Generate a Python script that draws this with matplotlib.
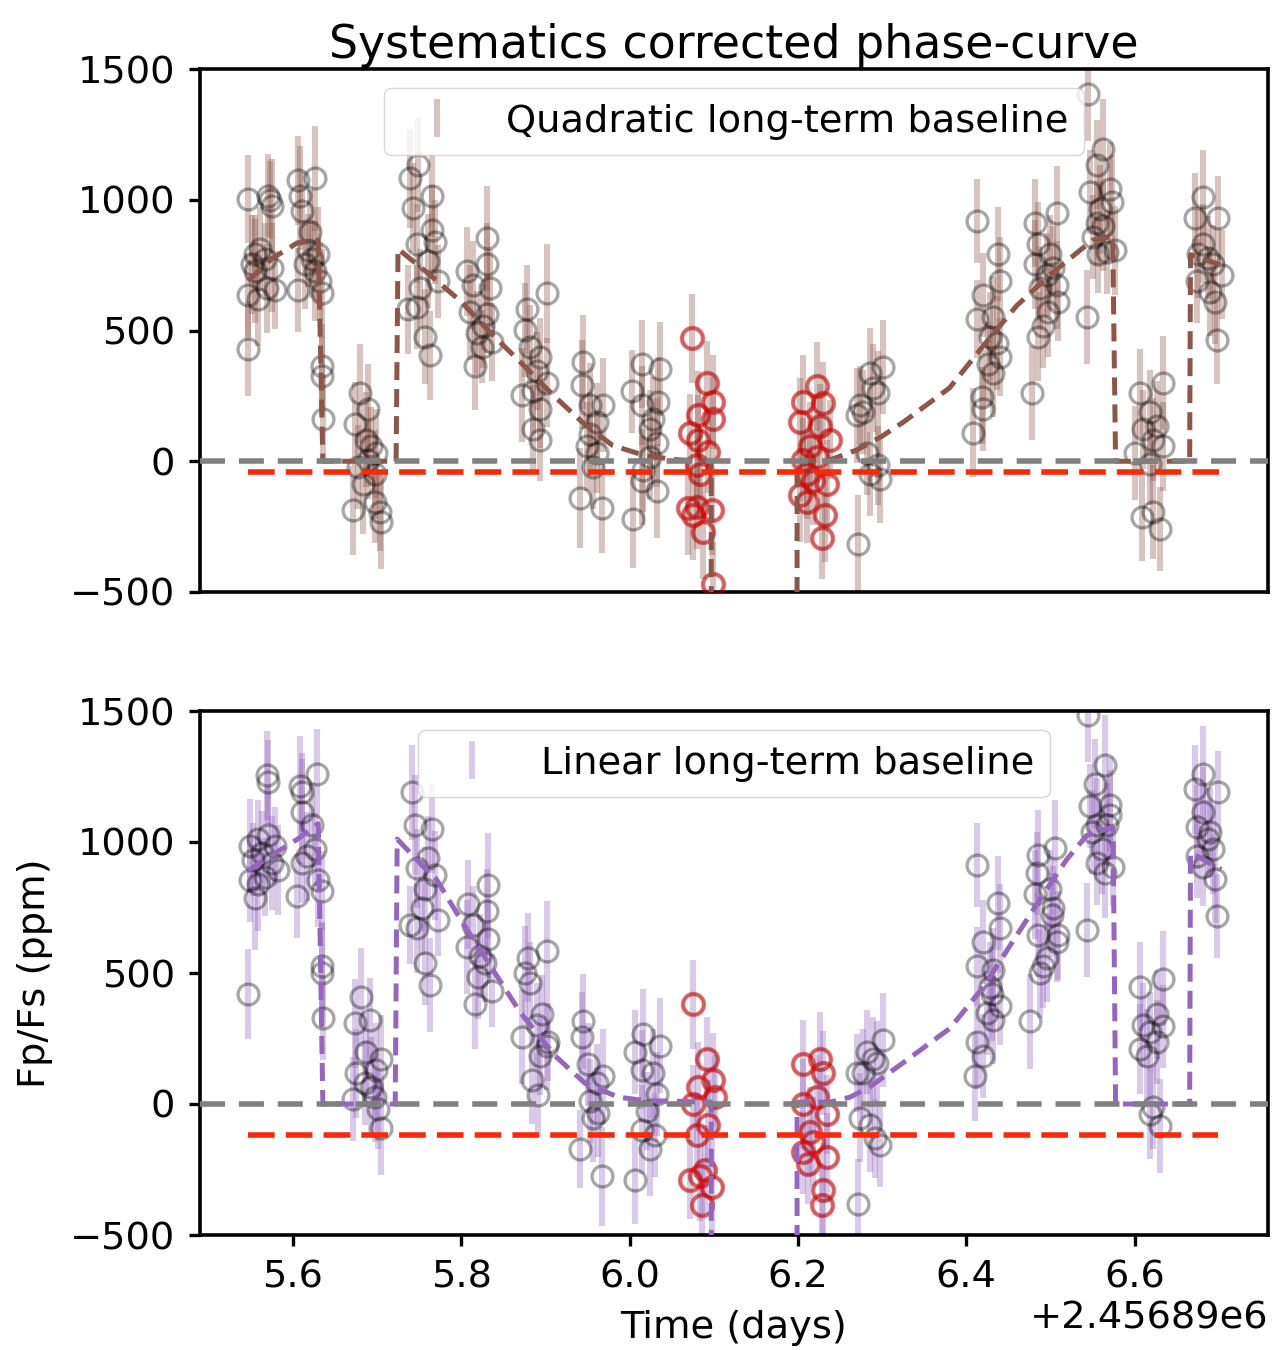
import matplotlib
matplotlib.use("Agg")
import matplotlib.pyplot as plt
import numpy as np

plt.rcParams['font.family'] = ['DejaVu Sans']
plt.rcParams['font.size'] = 27.6

T0 = 2456890.0

# ---------------- Quadratic long-term baseline (top) ----------------
t_quad = [
    5.5469, 5.5707, 5.5747, 5.5727, 5.5509, 5.5548, 5.5608, 5.5667, 5.5747, 5.5469, 5.5588, 5.5786, 5.5548, 5.5687, 5.5469,
    5.6063, 5.6083, 5.6103, 5.6261, 5.6202, 5.6182, 5.6143, 5.6222, 5.6301, 5.6063, 5.6321, 5.6340, 5.6261, 5.6345, 5.6350, 5.6360,
    5.6793, 5.6891, 5.6733, 5.6931, 5.6872, 5.6990, 5.6773, 5.6832, 5.6717, 5.6970, 5.7030, 5.7050, 5.6970, 5.6891,
    5.7490, 5.7391, 5.7430, 5.7648, 5.7470, 5.7648, 5.7688, 5.7609, 5.7510, 5.7728, 5.7371, 5.7470, 5.7569, 5.7628,
    5.8064, 5.8302, 5.8302, 5.8342, 5.8104, 5.8302, 5.8183, 5.8242, 5.8163, 5.8361, 5.8262, 5.8143,
    5.8777, 5.8757, 5.9014, 5.8816, 5.8935, 5.9014, 5.8717, 5.8856, 5.8935, 5.8856, 5.8935, 5.8896,
    5.9451, 5.9431, 5.9530, 5.9689, 5.9609, 5.9530, 5.9490, 5.9609, 5.9411, 5.9669, 5.9570,
    6.0144, 6.0362, 6.0025, 6.0144, 6.0342, 6.0283, 6.0243, 6.0323, 6.0243, 6.0144, 6.0323, 6.0045, 6.0164,
    6.2857, 6.3015, 6.2956, 6.2738, 6.2777, 6.2896, 6.2698, 6.2817, 6.2956, 6.2975, 6.2857, 6.2718,
    6.4125, 6.4382, 6.4402, 6.4204, 6.4125, 6.4323, 6.4283, 6.4402, 6.4264, 6.4323, 6.4184, 6.4204, 6.4085, 6.4363,
    6.4818, 6.5075, 6.4857, 6.4818, 6.4996, 6.4956, 6.5075, 6.4877, 6.5095, 6.4976, 6.4917, 6.4857, 6.4778, 6.5036,
    6.5452, 6.5630, 6.5551, 6.5709, 6.5472, 6.5590, 6.5729, 6.5511, 6.5630, 6.5670, 6.5571, 6.5769, 6.5432, 6.5551,
    6.6065, 6.6343, 6.6184, 6.6263, 6.6105, 6.6224, 6.6343, 6.6006, 6.6184, 6.6085, 6.6224, 6.6303,
    6.6818, 6.6719, 6.6997, 6.6759, 6.6878, 6.6937, 6.7037, 6.6739, 6.6818, 6.6898, 6.6957, 6.6977,
]
f_quad = [
    1003, 1016, 977, 1000, 753, 793, 812, 773, 740, 635, 622, 655, 727, 661, 431,
    1075, 1016, 957, 1082, 878, 806, 753, 773, 793, 655, 688, 642, 727, 365, 326, 162,
    260, 201, 142, 57, 83, 30, -22, -88, -187, -154, -193, -233, -49, 4,
    1134, 1082, 970, 1016, 832, 885, 839, 766, 661, 688, 582, 589, 477, 405,
    727, 852, 753, 661, 569, 563, 490, 438, 365, 457, 517, 674,
    582, 503, 642, 438, 398, 300, 254, 267, 201, 122, 83, 346,
    379, 293, 214, 214, 149, 103, 57, 30, -141, -180, -22,
    372, 352, 267, 214, 227, 162, 122, 70, 17, -75, -114, -220, -35,
    339, 359, 260, 214, 188, 280, 175, 30, -16, -68, -49, -318,
    918, 793, 688, 635, 543, 550, 477, 398, 372, 339, 247, 201, 109, 451,
    911, 950, 832, 753, 793, 714, 674, 661, 609, 569, 517, 477, 260, 740,
    1404, 1194, 1134, 1042, 1029, 964, 990, 858, 898, 799, 793, 806, 550, 911,
    260, 300, 188, 135, 122, 83, 57, 30, -9, -213, -193, -259,
    1010, 931, 931, 793, 779, 753, 714, 688, 832, 648, 609, 464,
]
e_quad = [
    170, 160, 180, 150, 190, 150, 160, 140, 170, 160, 180, 150, 200, 170, 180,
    170, 190, 150, 200, 160, 140, 170, 150, 180, 160, 150, 170, 190, 160, 150, 170,
    190, 170, 160, 150, 180, 170, 160, 190, 170, 160, 150, 180, 170, 150,
    180, 190, 170, 160, 150, 170, 160, 180, 150, 140, 170, 160, 180, 170,
    170, 200, 160, 150, 180, 150, 160, 140, 170, 150, 160, 170,
    170, 180, 190, 160, 150, 170, 180, 160, 150, 170, 160, 150,
    180, 170, 160, 180, 150, 160, 170, 150, 190, 170, 160,
    170, 180, 160, 150, 170, 160, 150, 170, 160, 170, 180, 190, 160,
    170, 180, 160, 150, 160, 170, 180, 160, 150, 170, 160, 190,
    160, 180, 170, 160, 150, 160, 170, 150, 160, 170, 180, 160, 170, 180,
    170, 180, 160, 170, 150, 160, 170, 160, 150, 170, 160, 170, 180, 160,
    180, 190, 170, 180, 160, 170, 180, 160, 170, 160, 150, 170, 180, 160,
    170, 180, 160, 170, 150, 160, 170, 180, 160, 170, 180, 160,
    180, 170, 160, 170, 160, 150, 170, 160, 150, 170, 160, 170,
]
# points around the transit (highlighted in red)
t_quad_tr = [
    6.0738, 6.0916, 6.0995, 6.0817, 6.0995, 6.0718, 6.0817, 6.0936, 6.0797, 6.0837, 6.0698, 6.0797, 6.0975, 6.0876, 6.0995, 6.0758,
    6.2223, 6.2065, 6.2303, 6.2025, 6.2263, 6.2382, 6.2144, 6.2065, 6.2223, 6.2104, 6.2025, 6.2104, 6.2342, 6.2323, 6.2283, 6.2184,
]
f_quad_tr = [
    471, 300, 227, 175, 162, 109, 83, 37, -16, -49, -180, -174, -187, -272, -469, -206,
    287, 227, 221, 149, 135, 83, 57, 4, 17, -49, -128, -154, -88, -206, -292, -75,
]
e_quad_tr = [
    170, 160, 180, 170, 160, 150, 170, 160, 150, 170, 180, 160, 170, 180, 160, 170,
    170, 180, 160, 170, 160, 150, 170, 160, 150, 170, 180, 160, 170, 180, 160, 170,
]
model_t_quad = [5.5465, 5.575, 5.605, 5.630, 5.6355, 5.7225, 5.7248, 5.76, 5.80, 5.835, 5.87, 5.91,
                5.947, 5.98, 6.02, 6.06, 6.097, 6.0975, 6.1985, 6.199, 6.238, 6.27, 6.30, 6.325,
                6.38, 6.42, 6.46, 6.50, 6.53, 6.55, 6.574, 6.5775, 6.6655, 6.6665, 6.703]
model_f_quad = [690, 775, 835, 845, 0, 0, 812, 720, 610, 490, 380, 250,
                140, 60, 20, 5, 0, -20000, -20000, 0, 5, 43, 96, 149,
                280, 440, 595, 714, 793, 845, 860, 0, 0, 790, 750]
offset_quad = -40

# ---------------- Linear long-term baseline (bottom) ----------------
t_lin = [
    5.5687, 5.5707, 5.5489, 5.5588, 5.5707, 5.5786, 5.5628, 5.5529, 5.5826, 5.5489, 5.5588, 5.5667, 5.5548, 5.5469, 5.5747,
    5.6281, 5.6083, 5.6103, 5.6103, 5.6222, 5.6261, 5.6162, 5.6103, 5.6301, 5.6044, 5.6341, 5.6345, 5.6350, 5.6360,
    5.6813, 5.6733, 5.6911, 5.6872, 5.6990, 5.6753, 5.6852, 5.6931, 5.7050, 5.6713, 5.7010, 5.7050, 5.6970,
    5.7411, 5.7450, 5.7648, 5.7609, 5.7470, 5.7688, 5.7569, 5.7529, 5.7391, 5.7728, 5.7470, 5.7569, 5.7628,
    5.8084, 5.8322, 5.8302, 5.8322, 5.8064, 5.8282, 5.8203, 5.8361, 5.8163, 5.8143, 5.8222,
    5.8797, 5.8757, 5.9014, 5.8816, 5.8955, 5.9014, 5.8717, 5.8896, 5.8935, 5.8836, 5.8916, 5.9034,
    5.9451, 5.9431, 5.9510, 5.9689, 5.9609, 5.9530, 5.9629, 5.9411, 5.9669, 5.9570,
    6.0164, 6.0362, 6.0065, 6.0144, 6.0283, 6.0323, 6.0204, 6.0144, 6.0303, 6.0065, 6.0243,
    6.2777, 6.3015, 6.2896, 6.2698, 6.2936, 6.2738, 6.2857, 6.2975, 6.2916, 6.2718, 6.2817,
    6.4125, 6.4382, 6.4402, 6.4204, 6.4125, 6.4323, 6.4283, 6.4402, 6.4244, 6.4323, 6.4125, 6.4204, 6.4105, 6.4303,
    6.4857, 6.5055, 6.4838, 6.4818, 6.4996, 6.5036, 6.5095, 6.4857, 6.5075, 6.4956, 6.4917, 6.4877, 6.4758, 6.5016,
    6.5452, 6.5650, 6.5531, 6.5709, 6.5472, 6.5709, 6.5551, 6.5491, 6.5610, 6.5551, 6.5749, 6.5650, 6.5432, 6.5670,
    6.6065, 6.6343, 6.6105, 6.6263, 6.6184, 6.6343, 6.6065, 6.6144, 6.6263, 6.6184, 6.6303, 6.6224,
    6.6818, 6.6719, 6.6997, 6.6818, 6.6739, 6.6878, 6.6937, 6.6739, 6.6818, 6.6957, 6.6977, 6.6898,
]
f_lin = [
    1254, 1228, 985, 1011, 1025, 985, 959, 933, 893, 854, 841, 867, 788, 420, 919,
    1261, 1215, 1189, 1116, 1064, 972, 946, 919, 854, 795, 814, 525, 499, 328,
    407, 309, 322, 197, 131, 118, 79, 66, 171, 20, -20, -92, 26,
    1189, 1064, 1051, 939, 900, 873, 821, 749, 683, 703, 670, 539, 453,
    762, 834, 736, 630, 598, 539, 486, 433, 381, 683, 565,
    558, 499, 585, 460, 342, 223, 256, 302, 184, 92, 33, 236,
    315, 256, 151, 105, 79, 13, -33, -171, -276, -53,
    269, 223, 197, 131, 118, 39, -26, -99, -118, -289, -171,
    118, 243, 171, 118, 158, -53, -79, -158, -131, -381, 197,
    913, 768, 670, 617, 525, 512, 447, 374, 348, 322, 236, 184, 105, 420,
    952, 979, 880, 801, 821, 749, 644, 644, 617, 558, 525, 499, 315, 722,
    1484, 1294, 1222, 1143, 1136, 1103, 1064, 1038, 972, 919, 906, 880, 663, 1064,
    447, 479, 302, 342, 276, 296, 210, 184, 236, -39, -85, -13,
    1261, 1202, 1189, 1116, 1057, 1011, 972, 946, 906, 860, 716, 1038,
]
e_lin = [
    170, 160, 180, 150, 190, 150, 160, 140, 170, 160, 180, 150, 200, 170, 180,
    170, 190, 150, 200, 160, 140, 170, 150, 180, 160, 150, 170, 190, 160,
    190, 170, 160, 150, 180, 170, 160, 190, 170, 160, 150, 180, 170,
    180, 190, 170, 160, 150, 170, 160, 180, 150, 140, 170, 160, 180,
    170, 200, 160, 150, 180, 150, 160, 140, 170, 150, 160,
    170, 180, 190, 160, 150, 170, 180, 160, 150, 170, 160, 150,
    180, 170, 160, 180, 150, 160, 170, 150, 190, 170,
    170, 180, 160, 150, 170, 160, 150, 170, 160, 170, 180,
    170, 180, 160, 150, 160, 170, 180, 160, 150, 170, 160,
    160, 180, 170, 160, 150, 160, 170, 150, 160, 170, 180, 160, 170, 180,
    170, 180, 160, 170, 150, 160, 170, 160, 150, 170, 160, 170, 180, 160,
    180, 190, 170, 180, 160, 170, 180, 160, 170, 160, 150, 170, 180, 160,
    170, 180, 160, 170, 150, 160, 170, 180, 160, 170, 180, 160,
    180, 170, 160, 170, 160, 150, 170, 160, 150, 170, 160, 170,
]
t_lin_tr = [
    6.0758, 6.0916, 6.0995, 6.0817, 6.1015, 6.0758, 6.0936, 6.0797, 6.0718, 6.0837, 6.0975, 6.0857, 6.0896,
    6.2065, 6.2263, 6.2303, 6.2065, 6.2223, 6.2342, 6.2144, 6.2065, 6.2124, 6.2342, 6.2303, 6.2283, 6.2184,
]
f_lin_tr = [
    381, 171, 92, 66, 26, 0, -79, -118, -289, -276, -315, -387, -250,
    151, 171, 118, 0, 26, -39, -105, -184, -230, -204, -328, -387, -144,
]
e_lin_tr = [
    170, 160, 180, 170, 160, 150, 170, 160, 150, 170, 180, 160, 170,
    170, 180, 160, 170, 160, 150, 170, 160, 150, 170, 180, 160, 170,
]
model_t_lin = [5.5465, 5.575, 5.605, 5.630, 5.6355, 5.7215, 5.7238, 5.745, 5.77, 5.80, 5.84, 5.87,
               5.9114, 5.947, 5.9867, 6.0184, 6.058, 6.097, 6.0975, 6.1985, 6.199, 6.2382, 6.2619,
               6.2857, 6.3253, 6.3807, 6.4204, 6.46, 6.4917, 6.5194, 6.5432, 6.567, 6.5745, 6.5775,
               6.6655, 6.6665, 6.703]
model_f_lin = [890, 950, 1010, 1070, 0, 0, 1011, 940, 860, 700, 500, 350,
               184, 79, 26, 13, 10, 7, -20000, -20000, 7, 7, 26,
               66, 158, 289, 447, 644, 801, 933, 1025, 1051, 1055, 0,
               0, 960, 895]
offset_lin = -120

labels = ["Quadratic long-term baseline", "Linear long-term baseline"]
colors = ["tab:brown", "tab:purple"]
yticks = [-500, 0, 500, 1000, 1500]

fig = plt.figure(figsize=(12.72, 13.5), dpi=100)
ax1 = fig.add_axes([200 / 1272, 1 - 592 / 1350, 1068 / 1272, 523 / 1350])
ax2 = fig.add_axes([200 / 1272, 1 - 1235 / 1350, 1068 / 1272, 524 / 1350])

RED = '#f52a0a'


def panel(ax, t, f, e, ttr, ftr, etr, mt, mf, off, color, label):
    assert len(t) == len(f) == len(e)
    assert len(ttr) == len(ftr) == len(etr)
    assert len(mt) == len(mf)
    T = T0 + np.concatenate([np.array(t), np.array(ttr)])
    F = np.concatenate([np.array(f, float), np.array(ftr, float)])
    E = np.concatenate([np.array(e, float), np.array(etr, float)])
    ax.errorbar(T, F, yerr=E, fmt='none', ecolor=color, alpha=0.35,
                elinewidth=4.4, label=label, zorder=1)
    ax.plot(T, F, 'o', mfc='none', mec='k', alpha=0.35, ms=15, mew=2.4, zorder=2)
    ax.plot(T0 + np.array(ttr), ftr, 'o', mfc='none', mec='red', alpha=0.4,
            ms=15, mew=3.4, zorder=3)
    ax.plot(T0 + np.array(mt), mf, color=color, lw=3.6, ls=(0, (3.6, 1.8)), zorder=4)
    ax.axhline(0, color='gray', lw=4, ls=(0, (4.5, 2.5)), zorder=5)
    ax.hlines(off, T.min(), T.max(), color=RED, lw=4, linestyles=[(0, (4.8, 2.0))], zorder=6)
    ax.set_ylim(-500, 1500)
    ax.set_xlim(T0 + 5.4895, T0 + 6.7586)
    ax.set_yticks(yticks)
    for s in ax.spines.values():
        s.set_linewidth(2.6)
    ax.tick_params(width=2.4, length=8, pad=10, labelsize=27.6)
    ax.legend(loc='upper center', fontsize=27.6)


panel(ax1, t_quad, f_quad, e_quad, t_quad_tr, f_quad_tr, e_quad_tr,
      model_t_quad, model_f_quad, offset_quad, colors[0], labels[0])
panel(ax2, t_lin, f_lin, e_lin, t_lin_tr, f_lin_tr, e_lin_tr,
      model_t_lin, model_f_lin, offset_lin, colors[1], labels[1])

ax1.set_xticks([])
ax1.set_title("Systematics corrected phase-curve", fontsize=33, pad=8)
ax2.set_xlabel("Time (days)", labelpad=10)
ax2.set_ylabel("Fp/Fs (ppm)", labelpad=12)

fig.savefig("out.png", dpi=100)
